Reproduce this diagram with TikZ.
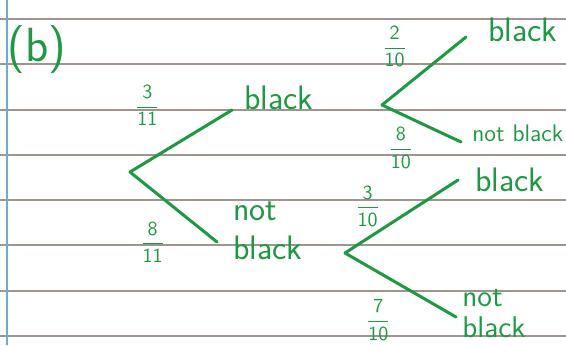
\documentclass[tikz,border=0pt]{standalone}
\usepackage{amsmath}
\usepackage{xcolor}
\usepackage{tikz}
\usetikzlibrary{positioning}
\definecolor{pen}{RGB}{30,152,66}
\definecolor{ruleline}{RGB}{160,148,140}
\definecolor{marginline}{RGB}{100,172,228}
\newcommand{\brfrac}[2]{$\dfrac{\textsf{#1}}{\textsf{#2}}$}
\tikzset{
  branch/.style={draw=pen, line width=1.5pt, line cap=round, line join=round},
  outcome/.style={text=pen, align=left, inner sep=1pt,
    font=\fontsize{17}{19.5}\selectfont\sffamily},
  problabel/.style={text=pen, inner sep=1pt, font=\normalsize},
  ruled/.style={draw=ruleline, line width=0.9pt},
}

\begin{document}
\begin{tikzpicture}[x=0.5pt, y=-0.5pt]
  % lined paper
  \fill[white] (0,0) rectangle (566,345);
  \useasboundingbox (0,0) rectangle (566,345);
  \foreach \y in {19,64,110,155,200,245,291,336}
    \draw[ruled] (0,\y) -- (566,\y);
  \draw[draw=marginline, line width=1pt] (7,0) -- (7,345);
  \node[outcome, font=\fontsize{24}{24}\selectfont\sffamily] (part) at (37,50) {(b)};

  % first pick
  \coordinate (root) at (130,172);
  \coordinate (e1) at (232,110);
  \coordinate (e2) at (217,242);
  \node[outcome, above right=-1pt and 5pt of e1] (b1) {black};
  \node[outcome, right=7pt of e2, yshift=5.5pt] (n1) {not\\black};
  \draw[branch] (root) -- node[problabel, pos=0.17, above=16pt] {\brfrac{3}{11}} (e1);
  \draw[branch] (root) -- node[problabel, pos=0.26, below=14pt] {\brfrac{8}{11}} (e2);

  % second pick, after black
  \coordinate (r2) at (382,105);
  \coordinate (e3) at (466,37);
  \coordinate (e4) at (461,142);
  \node[outcome, above right=-3.5pt and 10pt of e3] (bb) {black};
  \node[outcome, font=\large\sffamily, above right=-1pt and 4.5pt of e4] (bn) {not black};
  \draw[branch] (r2) -- node[problabel, pos=0.15, above=12pt] {\brfrac{2}{10}} (e3);
  \draw[branch] (r2) -- node[problabel, pos=0.24, below=5pt] {\brfrac{8}{10}} (e4);

  % second pick, after not black
  \coordinate (r3) at (345,253);
  \coordinate (e5) at (458,180);
  \coordinate (e6) at (456,317);
  \node[outcome, right=7.5pt of e5] (nb) {black};
  \node[outcome, font=\fontsize{15}{15.5}\selectfont\sffamily, right=2pt of e6, yshift=1.5pt] (nn) {not\\black};
  \draw[branch] (r3) -- node[problabel, pos=0.2, above=4pt] {\brfrac{3}{10}} (e5);
  \draw[branch] (r3) -- node[problabel, pos=0.3, below=12pt] {\brfrac{7}{10}} (e6);
\end{tikzpicture}
\end{document}
